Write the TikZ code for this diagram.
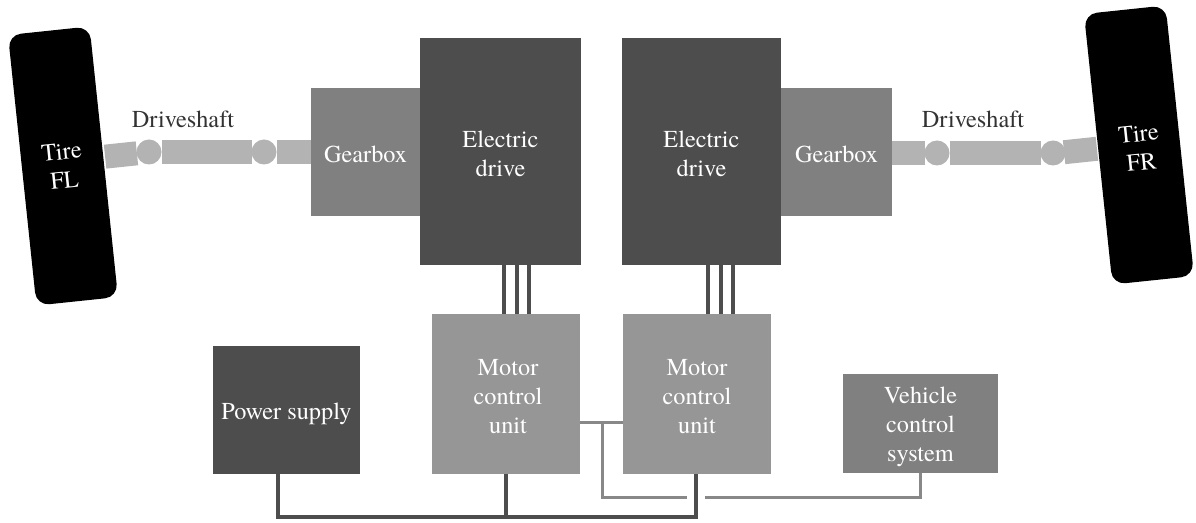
\documentclass[tikz,border=0pt]{standalone}
\usepackage{fontspec}
\setmainfont{texgyretermes-regular.otf}
\definecolor{darkbox}{RGB}{77,77,77}
\definecolor{midbox}{RGB}{128,128,128}
\definecolor{mcubox}{RGB}{150,150,150}
\definecolor{shaftc}{RGB}{179,179,179}
\definecolor{sigc}{RGB}{136,136,136}
\definecolor{labelc}{RGB}{51,51,51}
\tikzset{
  blk/.style={draw=none, inner sep=0pt, align=center, text=white,
    font=\rmfamily\fontsize{24.3}{29}\selectfont},
  tire/.style={blk, fill=black, rounded corners=13pt, rotate=6,
    minimum width=82pt, minimum height=272pt},
  shaftbar/.style={draw=none, fill=shaftc, inner sep=0pt, minimum height=24pt},
  joint/.style={draw=none, fill=shaftc, circle, inner sep=0pt, minimum size=25pt},
  lbl/.style={inner sep=0pt, text=labelc, font=\rmfamily\fontsize{24.3}{29}\selectfont},
  wire/.style={draw=darkbox, line width=3.5pt},
  power/.style={draw=darkbox, line width=3.5pt},
  sig/.style={draw=sigc, line width=3pt}
}
\begin{document}
\begin{tikzpicture}[x=1pt,y=1pt]
\useasboundingbox (0,0) rectangle (1196,522);
% tires
\node[tire] (tireFL) at (63,356) {Tire\\FL};
\node[tire] (tireFR) at (1139,377) {};
\node[blk, rotate=6] (tireFRt) at (1140,374) {Tire\\FR};
% left driveshaft
\node[shaftbar, rotate=6, minimum width=32pt] (sL1) at (121,367) {};
\node[joint] (jL1) at (149,370) {};
\node[shaftbar, minimum width=90pt] (sL2) at (207,370) {};
\node[joint] (jL2) at (264,370) {};
\node[shaftbar, minimum width=34pt] (sL3) at (294,370) {};
\node[lbl] (dsL) at (183,403) {Driveshaft};
% right driveshaft
\node[shaftbar, minimum width=33pt] (sR1) at (908.5,369) {};
\node[joint] (jR1) at (937,369) {};
\node[shaftbar, minimum width=91pt] (sR2) at (995.5,369) {};
\node[joint] (jR2) at (1053,369) {};
\node[shaftbar, rotate=6, minimum width=33pt] (sR3) at (1080.5,371.5) {};
\node[lbl] (dsR) at (973,403) {Driveshaft};
% gearboxes and drives
\node[blk, fill=midbox, minimum width=109pt, minimum height=128pt] (gbL) at (365.5,370) {};
\node[blk] (gbLt) at (365.5,368) {Gearbox};
\node[blk, fill=darkbox, minimum width=161pt, minimum height=227pt] (edL) at (500.5,370.5) {};
\node[blk] (edLt) at (500.5,368.5) {Electric\\drive};
\node[blk, fill=darkbox, minimum width=159pt, minimum height=227pt] (edR) at (701.5,370.5) {};
\node[blk] (edRt) at (701.5,368.5) {Electric\\drive};
\node[blk, fill=midbox, minimum width=111pt, minimum height=128pt] (gbR) at (836.5,370) {};
\node[blk] (gbRt) at (836.5,368) {Gearbox};
% lower row
\node[blk, fill=mcubox, minimum width=148pt, minimum height=160pt] (mcuL) at (506,128) {};
\node[blk] (mcuLt) at (508,125) {Motor\\control\\unit};
\node[blk, fill=mcubox, minimum width=148pt, minimum height=160pt] (mcuR) at (697,128) {};
\node[blk] (mcuRt) at (697,125) {Motor\\control\\unit};
\node[blk, fill=darkbox, minimum width=147pt, minimum height=128pt] (ps) at (286.5,112) {};
\node[blk] (pst) at (286.5,108) {Power supply};
\node[blk, fill=midbox, minimum width=155pt, minimum height=99pt] (vcs) at (920.5,98.5) {};
\node[blk] (vcst) at (920.5,95) {Vehicle\\control\\system};
% wires drive -> MCU
\foreach \dx in {3.5,16.5,28.5}
  \draw[wire] ([xshift=\dx]edL.south) -- ([xshift=\dx]edL.south |- mcuL.north);
\foreach \dx in {6.5,19.5,31.5}
  \draw[wire] ([xshift=\dx]edR.south) -- ([xshift=\dx]edR.south |- mcuR.north);
% power bus
\coordinate (bus) at (0,5);
\draw[power] ([xshift=-8.5]ps.south) |- ([xshift=-1]mcuR.south |- bus) -- ([xshift=-1]mcuR.south);
\draw[power] (mcuL.south) -- (mcuL.south |- bus);
% signal bus
\coordinate (sigy) at (0,99);
\coordinate (j) at (602,99);
\coordinate (gapL) at (687,25);
\coordinate (gapR) at (705,25);
\draw[sig] (mcuL.east |- sigy) -- (mcuR.west |- sigy);
\draw[sig] (j) |- (gapL);
\draw[sig] (gapR) -| (vcs.south);
\end{tikzpicture}
\end{document}
